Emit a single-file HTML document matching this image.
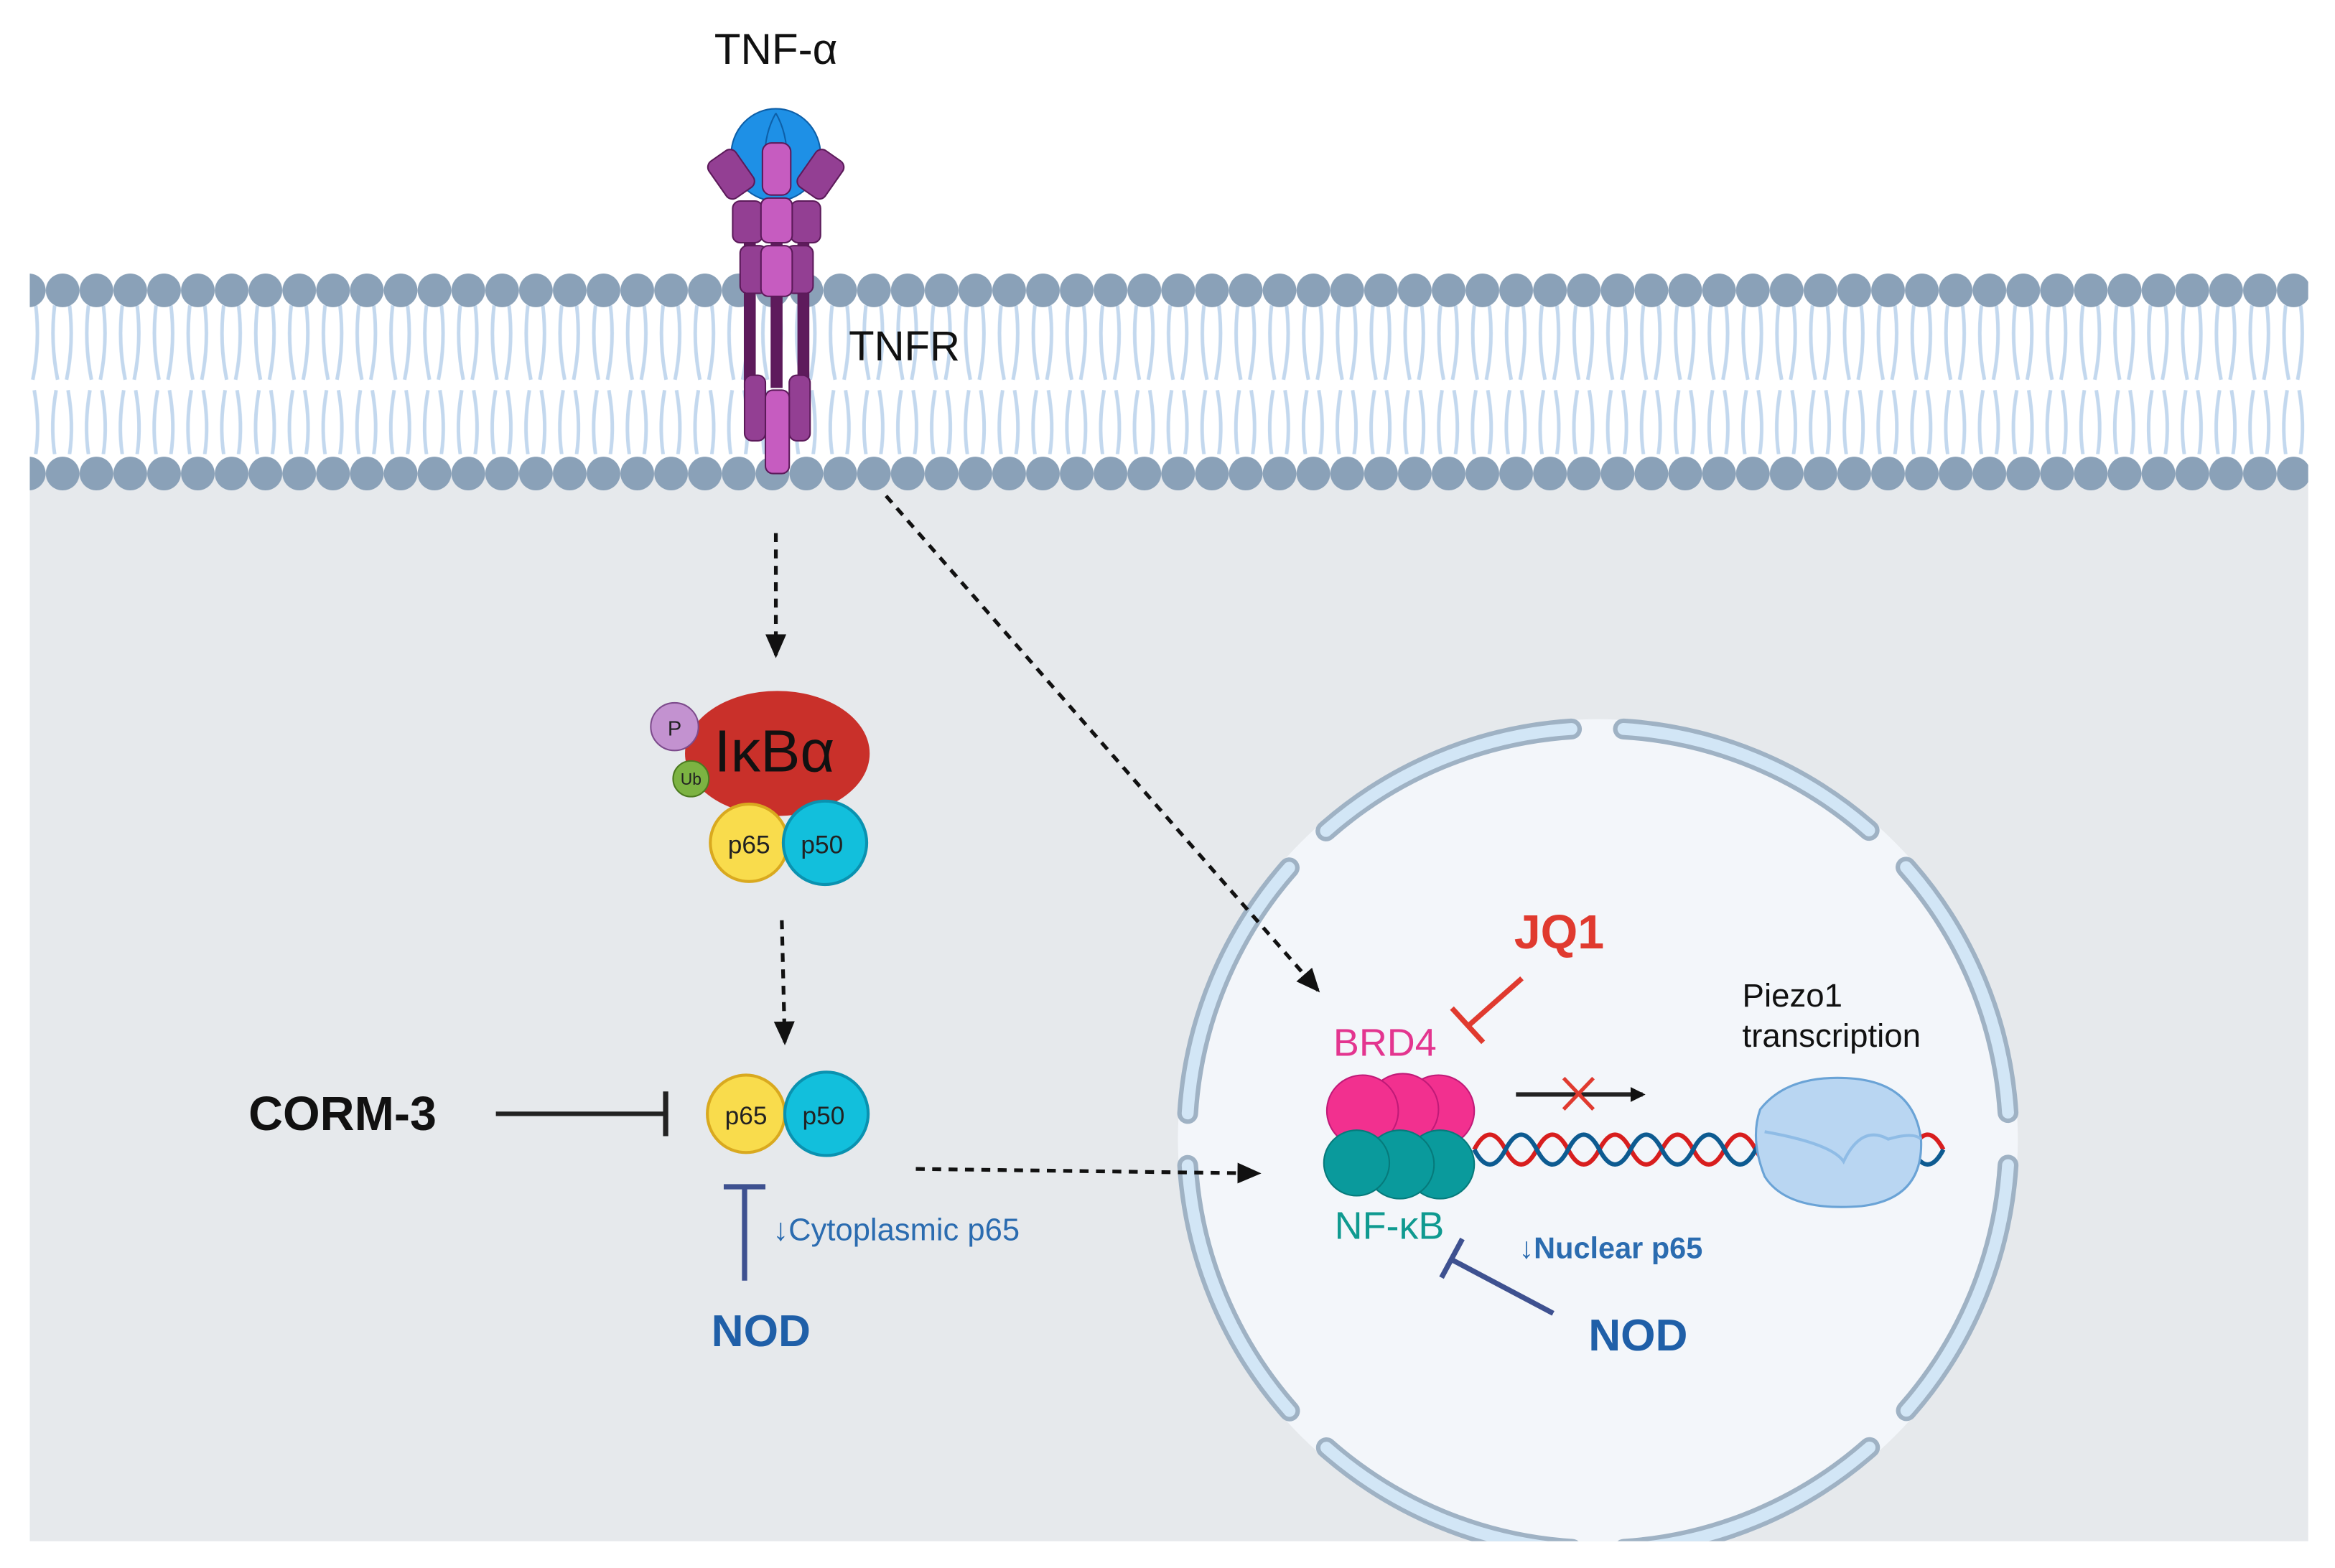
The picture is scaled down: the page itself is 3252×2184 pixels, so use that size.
<!DOCTYPE html>
<html><head><meta charset="utf-8"><style>
html,body{margin:0;padding:0;background:#fff;}
svg{display:block;}
text{font-family:"Liberation Sans","DejaVu Sans",sans-serif;}
</style></head><body>
<svg width="3252" height="2184" viewBox="0 0 1568 1053" preserveAspectRatio="none" xmlns="http://www.w3.org/2000/svg">
<defs>
<clipPath id="cl"><rect x="0" y="0" width="1568" height="1035"/></clipPath>
<marker id="ah" markerWidth="10" markerHeight="10" refX="8" refY="5" orient="auto" markerUnits="userSpaceOnUse"><path d="M0,0 L10,5 L0,10 Z" fill="#111"/></marker>
<marker id="ah2" markerWidth="16" markerHeight="16" refX="14" refY="8" orient="auto" markerUnits="userSpaceOnUse"><path d="M0,1 L16,8 L0,15 Z" fill="#111"/></marker>
<pattern id="tails" x="8" y="0" width="22.7" height="1053" patternUnits="userSpaceOnUse">
<path d="M6,205 Q3,230 8,255 M16,205 Q19,230 14,255 M7,262 Q3,285 6,305 M15,262 Q19,285 16,305" stroke="#c3d8ee" stroke-width="2.4" fill="none"/>
</pattern>
<pattern id="heads" x="8" y="0" width="22.7" height="1053" patternUnits="userSpaceOnUse">
<circle cx="11.35" cy="195" r="11.3" fill="#8aa1b8"/>
<circle cx="11.35" cy="318" r="11.3" fill="#8aa1b8"/>
</pattern>
</defs>
<rect x="20" y="318" width="1530" height="717" fill="#e6e9ec"/>
<rect x="20" y="205" width="1530" height="100" fill="url(#tails)"/>
<rect x="20" y="180" width="1530" height="150" fill="url(#heads)"/>

<!-- Nucleus -->
<g clip-path="url(#cl)">
<circle cx="1073" cy="765" r="282" fill="#f3f6fa"/>
<circle cx="1073" cy="765" r="276" fill="none" stroke="#9fb2c4" stroke-width="14" stroke-linecap="round" stroke-dasharray="181.7 35" stroke-dashoffset="-17.5"/>
<circle cx="1073" cy="765" r="276" fill="none" stroke="#d2e6f6" stroke-width="8" stroke-linecap="round" stroke-dasharray="181.7 35" stroke-dashoffset="-17.5"/>
</g>

<!-- Receptor -->
<g stroke="#5c1a5a" stroke-width="1">
<rect x="500" y="160" width="7" height="100" fill="#5e1b5c"/>
<rect x="518" y="160" width="7" height="100" fill="#5e1b5c"/>
<rect x="536" y="160" width="7" height="100" fill="#5e1b5c"/>
<rect x="500" y="252" width="14" height="44" rx="5" fill="#933f93"/>
<rect x="530" y="252" width="14" height="44" rx="5" fill="#933f93"/>
<rect x="514" y="262" width="16" height="56" rx="5" fill="#c65cc0"/>
<ellipse cx="521" cy="104" rx="30" ry="31" fill="#1e90e6" stroke="#0d5fa8"/>
<path d="M521,76 Q510,95 515,125 M521,76 Q532,95 527,125" stroke="#0d5fa8" fill="none"/>
<rect x="480" y="102" width="22" height="30" rx="5" fill="#933f93" transform="rotate(-35 491 117)"/>
<rect x="540" y="102" width="22" height="30" rx="5" fill="#933f93" transform="rotate(35 551 117)"/>
<rect x="512" y="96" width="19" height="35" rx="6" fill="#c65cc0"/>
<rect x="492" y="135" width="20" height="28" rx="5" fill="#933f93"/>
<rect x="531" y="135" width="20" height="28" rx="5" fill="#933f93"/>
<rect x="511" y="133" width="21" height="30" rx="5" fill="#c65cc0"/>
<rect x="497" y="165" width="18" height="32" rx="5" fill="#933f93"/>
<rect x="528" y="165" width="18" height="32" rx="5" fill="#933f93"/>
<rect x="511" y="165" width="21" height="34" rx="5" fill="#c65cc0"/>
</g>
<text x="521" y="43" font-size="29" text-anchor="middle" fill="#111">TNF-α</text>
<text x="570" y="242" font-size="28" fill="#111">TNFR</text>

<!-- dashed arrows -->
<line x1="521" y1="358" x2="521" y2="440" stroke="#111" stroke-width="2.5" stroke-dasharray="6 5" marker-end="url(#ah2)"/>
<line x1="525" y1="618" x2="527" y2="700" stroke="#111" stroke-width="2.5" stroke-dasharray="6 5" marker-end="url(#ah2)"/>
<line x1="595" y1="333" x2="885" y2="665" stroke="#111" stroke-width="2.5" stroke-dasharray="6 5" marker-end="url(#ah2)"/>
<line x1="615" y1="785" x2="845" y2="788" stroke="#111" stroke-width="2.5" stroke-dasharray="6 5" marker-end="url(#ah2)"/>

<!-- IkBa complex -->
<ellipse cx="522" cy="506" rx="62" ry="42" fill="#c9302a"/>
<text x="520" y="518" font-size="40" text-anchor="middle" fill="#111">IκBα</text>
<circle cx="453" cy="488" r="16" fill="#c392d0" stroke="#7d4b8c"/>
<text x="453" y="494" font-size="14" text-anchor="middle" fill="#222">P</text>
<circle cx="464" cy="523" r="12" fill="#7cb342" stroke="#4b7a1f"/>
<text x="464" y="527" font-size="11" text-anchor="middle" fill="#222">Ub</text>
<circle cx="503" cy="566" r="26" fill="#f9dc4c" stroke="#d9a91f" stroke-width="2"/>
<circle cx="554" cy="566" r="28" fill="#12bfdc" stroke="#0a92b0" stroke-width="2"/>
<text x="503" y="573" font-size="17" text-anchor="middle" fill="#222">p65</text>
<text x="552" y="573" font-size="17" text-anchor="middle" fill="#222">p50</text>

<circle cx="501" cy="748" r="26" fill="#f9dc4c" stroke="#d9a91f" stroke-width="2"/>
<circle cx="555" cy="748" r="28" fill="#12bfdc" stroke="#0a92b0" stroke-width="2"/>
<text x="501" y="755" font-size="17" text-anchor="middle" fill="#222">p65</text>
<text x="553" y="755" font-size="17" text-anchor="middle" fill="#222">p50</text>

<!-- CORM-3 -->
<text x="230" y="759" font-size="32" font-weight="bold" text-anchor="middle" fill="#111">CORM-3</text>
<line x1="333" y1="748" x2="447" y2="748" stroke="#222" stroke-width="3"/>
<line x1="447" y1="733" x2="447" y2="763" stroke="#222" stroke-width="3.5"/>

<!-- NOD cytoplasm -->
<line x1="500" y1="860" x2="500" y2="797" stroke="#3e5190" stroke-width="3.5"/>
<line x1="486" y1="797" x2="514" y2="797" stroke="#3e5190" stroke-width="3.5"/>
<text x="511" y="904" font-size="30" font-weight="bold" text-anchor="middle" fill="#1f5fa8">NOD</text>
<text x="519" y="833" font-size="21" fill="#2b6cb0">↓Cytoplasmic p65</text>

<!-- Nucleus contents -->
<text x="1047" y="637" font-size="32" font-weight="bold" text-anchor="middle" fill="#e03a2f">JQ1</text>
<line x1="1022" y1="657" x2="987" y2="688" stroke="#e03a2f" stroke-width="3.5"/>
<line x1="975" y1="677" x2="996" y2="700" stroke="#e03a2f" stroke-width="3.5"/>
<text x="930" y="709" font-size="26" text-anchor="middle" fill="#e3358f">BRD4</text>
<g stroke="#c01a78" stroke-width="1">
<circle cx="966" cy="746" r="24" fill="#f2308f"/>
<circle cx="942" cy="745" r="24" fill="#f2308f"/>
<circle cx="915" cy="746" r="24" fill="#f2308f"/>
</g>
<g stroke="#067a7b" stroke-width="1">
<circle cx="967" cy="782" r="23" fill="#0a9a9c"/>
<circle cx="940" cy="782" r="23" fill="#0a9a9c"/>
<circle cx="911" cy="781" r="22" fill="#0a9a9c"/>
</g>
<text x="933" y="832" font-size="26" text-anchor="middle" fill="#0f9a90">NF-κB</text>
<line x1="1018" y1="735" x2="1103" y2="735" stroke="#222" stroke-width="3" marker-end="url(#ah)"/>
<line x1="1050" y1="724" x2="1070" y2="745" stroke="#e03a2f" stroke-width="2.5"/>
<line x1="1070" y1="724" x2="1050" y2="745" stroke="#e03a2f" stroke-width="2.5"/>
<path d="M990,772 q10.5,-20 21,0 t21,0 t21,0 t21,0 t21,0 t21,0 t21,0 t21,0 t21,0 t21,0 t21,0 t21,0 t21,0 t21,0 t21,0" stroke="#d81e1e" stroke-width="3" fill="none"/>
<path d="M990,772 q10.5,20 21,0 t21,0 t21,0 t21,0 t21,0 t21,0 t21,0 t21,0 t21,0 t21,0 t21,0 t21,0 t21,0 t21,0 t21,0" stroke="#0d5b91" stroke-width="3" fill="none"/>
<path d="M1182,745 Q1200,722 1240,724 Q1285,726 1290,765 Q1292,805 1250,810 Q1200,814 1185,790 Q1175,765 1182,745 Z" fill="#b9d6f2" stroke="#6aa3d6" stroke-width="1.5"/>
<path d="M1185,760 Q1230,768 1238,780 Q1250,755 1268,765 Q1285,760 1290,765" stroke="#8fbce6" stroke-width="2" fill="none"/>
<text x="1170" y="676" font-size="22" fill="#111">Piezo1</text>
<text x="1170" y="703" font-size="22" fill="#111">transcription</text>
<text x="1020" y="845" font-size="20" fill="#2b6cb0" font-weight="bold">↓Nuclear p65</text>
<line x1="1043" y1="882" x2="975" y2="846" stroke="#3e5190" stroke-width="3.5"/>
<line x1="982" y1="832" x2="968" y2="858" stroke="#3e5190" stroke-width="3.5"/>
<text x="1100" y="907" font-size="30" font-weight="bold" text-anchor="middle" fill="#1f5fa8">NOD</text>
</svg>
</body></html>
